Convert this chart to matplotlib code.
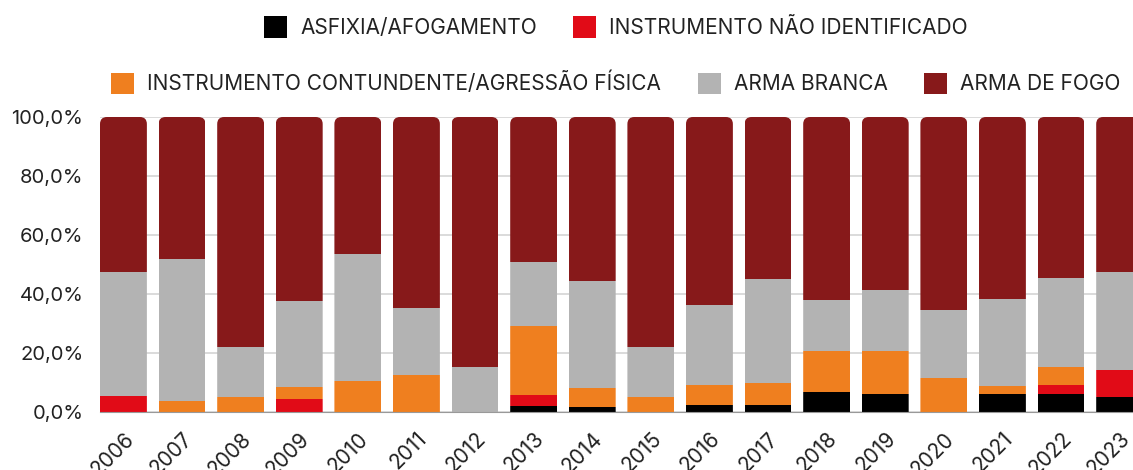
import numpy as np
import matplotlib
matplotlib.use("Agg")
import matplotlib.pyplot as plt
from matplotlib.patches import FancyBboxPatch, Patch

plt.rcParams['font.family'] = ['Inter', 'DejaVu Sans']

anos = ['2006', '2007', '2008', '2009', '2010', '2011', '2012', '2013', '2014',
        '2015', '2016', '2017', '2018', '2019', '2020', '2021', '2022', '2023']

asfixia = [0, 0, 0, 0, 0, 0, 0, 1.9, 1.7, 0, 2.5, 2.5, 6.9, 6.0, 0, 6.0, 6.0, 5.0]
nao_ident = [5.3, 0, 0, 4.3, 0, 0, 0, 4.0, 0, 0, 0, 0, 0, 0, 0, 0, 3.0, 9.4]
contundente = [0, 3.6, 5.0, 4.2, 10.6, 12.4, 0, 23.4, 6.5, 5.0, 6.6, 7.4, 13.7, 14.7, 11.5, 2.9, 6.1, 0]
branca = [42.1, 48.2, 17.0, 29.1, 43.0, 22.9, 15.2, 21.7, 36.1, 17.0, 27.3, 35.1, 17.4, 20.6, 23.1, 29.3, 30.3, 33.2]
fogo = [100 - a - b - c - d for a, b, c, d in zip(asfixia, nao_ident, contundente, branca)]

series = [
    ('ASFIXIA/AFOGAMENTO', asfixia, '#000000'),
    ('INSTRUMENTO NÃO IDENTIFICADO', nao_ident, '#e10b17'),
    ('INSTRUMENTO CONTUNDENTE/AGRESSÃO FÍSICA', contundente, '#ef7f1f'),
    ('ARMA BRANCA', branca, '#b3b3b3'),
    ('ARMA DE FOGO', fogo, '#87191a'),
]

W, H = 1133, 470
fig = plt.figure(figsize=(W / 100, H / 100), dpi=100)
ax = fig.add_axes([100 / W, 58 / H, 1050 / W, 295 / H])

x = np.arange(len(anos))
bw = 0.8
ax.set_xlim(-0.4, -0.4 + 1050 / 58.6)
ax.set_ylim(0, 100)

# rounded outline of each column, used to clip its segments
r_x = 0.12
asp = (1 / 2.95) / (1 / 58.6)
clips = [FancyBboxPatch((xi - bw / 2, -20), bw, 120,
                        boxstyle=f"round,pad=0,rounding_size={r_x}",
                        mutation_aspect=asp, transform=ax.transData)
         for xi in x]

bottom = np.zeros(len(anos))
for nome, vals, cor in series:
    vals = np.array(vals)
    bars = ax.bar(x, vals, bw, bottom=bottom, color=cor, zorder=3, linewidth=0)
    for b, c in zip(bars, clips):
        b.set_clip_path(c)
    bottom += vals

ax.set_yticks(np.arange(0, 101, 20))
ax.set_yticklabels([f"{v:.1f}%".replace('.', ',') for v in range(0, 101, 20)])
ax.set_xticks(x)
ax.set_xticklabels(anos, rotation=45, ha='right', va='top', rotation_mode='anchor')
ax.tick_params(length=0, colors='#222222')
ax.tick_params(axis='y', labelsize=14.5, pad=12)
ax.tick_params(axis='x', labelsize=15, pad=12)
ax.grid(axis='y', color='#d4d4d4', linewidth=1.2, zorder=0)
ax.set_axisbelow(True)
for s in ['top', 'right', 'left']:
    ax.spines[s].set_visible(False)
ax.spines['bottom'].set_color('#999999')
ax.spines['bottom'].set_zorder(4)

def handles(items):
    return [Patch(facecolor=c, edgecolor='none', label=n) for n, _, c in items]

kw = dict(frameon=False, fontsize=15, handlelength=1.1, handleheight=1.2,
          handletextpad=0.63, columnspacing=1.75, borderaxespad=0, labelcolor='#222222')
fig.legend(handles=handles(series[:2]), ncol=2, loc='center',
           bbox_to_anchor=(616 / W, 1 - 27 / H), **kw)
fig.legend(handles=handles(series[2:]), ncol=3, loc='center',
           bbox_to_anchor=(616 / W, 1 - 83 / H), **kw)

fig.savefig('out.png', dpi=100)
